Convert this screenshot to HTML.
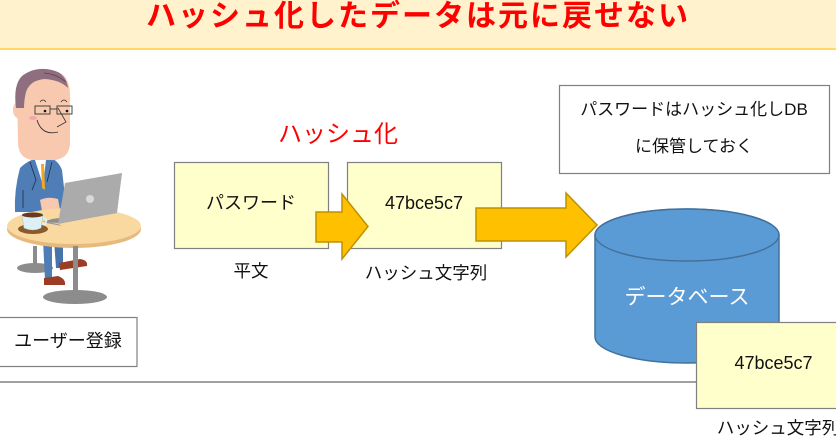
<!DOCTYPE html>
<html><head><meta charset="utf-8">
<style>
html,body{margin:0;padding:0;}
body{width:836px;height:428px;overflow:hidden;position:relative;background:#fff;font-family:"Liberation Sans","Noto Sans CJK JP",sans-serif;}
.t{position:absolute;white-space:nowrap;text-align:center;color:#111;}
#bar{position:absolute;left:0;top:0;width:836px;height:48px;background:#FFF2CC;border-bottom:2.5px solid #FFD966;}
#title{position:absolute;left:0;top:0;width:836px;height:34px;line-height:34px;text-align:center;color:#F00;font-weight:bold;font-size:30px;letter-spacing:2px;font-family:"Liberation Sans","Noto Sans CJK JP",sans-serif;}
svg{position:absolute;left:0;top:0;}
</style></head><body>
<div id="bar"></div>
<div id="title">ハッシュ化したデータは元に戻せない</div>
<svg width="836" height="428" viewBox="0 0 836 428">
  <line x1="0" y1="382" x2="836" y2="382" stroke="#808080" stroke-width="1.5"/>
  <g>
    <rect x="33" y="246" width="4" height="22" fill="#8c8c8c"/>
    <ellipse cx="35" cy="268" rx="18" ry="5" fill="#8c8c8c"/>
    <path d="M43,240 L52,240 L52,280 L45,280 Z" fill="#4F7DB5"/>
    <path d="M54,240 L63,240 L63,268 L56,268 Z" fill="#4673AC"/>
    <path d="M59,263 L80,259 Q88,260 87,266 L60,270 Z" fill="#9B3D24"/>
    <path d="M44,278 L58,276 Q66,279 65,285 L44,285 Z" fill="#9B3D24"/>
    <path d="M20,168 Q28,160 38,158 L50,158 Q58,160 62,170 L66,205 L60,212 L15,212 Q14,190 20,168 Z" fill="#4F7DB5"/>
    <path d="M35,160 L43,185 L46,160 Z" fill="#fff"/>
    <path d="M41,164 L44,164 L45,190 L42,188 Z" fill="#F2A91E"/>
    <path d="M30,162 L36,180 L32,190" stroke="#1e2e4a" stroke-width="0.8" fill="none"/>
    <path d="M52,162 L47,182" stroke="#1e2e4a" stroke-width="0.8" fill="none"/>
    <path d="M23,190 L23,208" stroke="#1e2e4a" stroke-width="0.8" fill="none"/>
    <rect x="37" y="150" width="9" height="10" fill="#F8C9AE"/>
    <path d="M17,95 Q17,76 30,73 Q45,68 60,73 Q70,78 70,95 L70,142 Q70,158 55,160 L32,160 Q18,158 18,142 Z" fill="#F8C9AE"/>
    <ellipse cx="18" cy="110" rx="5" ry="8" fill="#F8C9AE"/>
    <path d="M16,108 Q13,85 22,76 Q35,66 52,70 Q66,73 68,88 Q60,80 45,79 Q30,80 26,92 Q24,100 24,108 Z" fill="#8F6E80"/>
    <path d="M44,73 Q56,74 66,82" stroke="#5a3f50" stroke-width="0.8" fill="none"/>
    <ellipse cx="33" cy="118" rx="4" ry="2" fill="#F4A7A7"/>
    <rect x="35" y="106" width="15" height="8" fill="none" stroke="#333" stroke-width="0.9"/>
    <rect x="57" y="106" width="15" height="8" fill="none" stroke="#333" stroke-width="0.9"/>
    <line x1="50" y1="109" x2="57" y2="109" stroke="#333" stroke-width="0.9"/>
    <circle cx="45" cy="111" r="1.3" fill="#111"/>
    <circle cx="67" cy="111" r="1.3" fill="#111"/>
    <path d="M40,102 Q43,98 46,102 M61,102 Q64,98 67,102" stroke="#333" stroke-width="0.8" fill="none"/>
    <path d="M58,108 L66,122 L57,127" stroke="#333" stroke-width="0.8" fill="none"/>
    <path d="M37,120 Q42,136 58,132" stroke="#333" stroke-width="0.9" fill="none"/>
    <path d="M40,200 Q48,196 58,199 L60,210 L42,211 Z" fill="#F8C9AE"/>
    <ellipse cx="74" cy="229" rx="67" ry="19" fill="#E6B97D"/>
    <ellipse cx="74" cy="226" rx="67" ry="18" fill="#FAD9A1"/>
    <rect x="73" y="246" width="5" height="48" fill="#8c8c8c"/>
    <ellipse cx="75" cy="297" rx="32" ry="7" fill="#8c8c8c"/>
    <path d="M43,222 L58,223 L117,213 L110,211 L52,219 Z" fill="#8e8e8e"/>
    <path d="M65,183 L122,173 L117,213 L58,224 Z" fill="#ABABAB"/>
    <path d="M43,221 L58,224 L62,226 L46,223 Z" fill="#9a9a9a"/>
    <ellipse cx="90" cy="199" rx="4" ry="4" fill="#d8d8d8"/>
    <ellipse cx="33" cy="229" rx="15" ry="5" fill="#8B5A2B"/>
    <path d="M22,215 L43,215 L41,228 Q33,232 24,228 Z" fill="#DDF0F8" stroke="#9cc" stroke-width="0.5"/>
    <ellipse cx="32.5" cy="215" rx="10.5" ry="2.5" fill="#6b3a1e"/>
    <path d="M43,218 Q48,219 45,224 L42,224" stroke="#DDF0F8" stroke-width="2" fill="none"/>
  </g>
  <rect x="-1" y="317.5" width="138" height="49" fill="#fff" stroke="#808080" stroke-width="1.2"/>
  <rect x="174.5" y="162.5" width="154" height="86" fill="#FFFFCC" stroke="#808080" stroke-width="1.2"/>
  <rect x="347.5" y="162.5" width="154" height="86" fill="#FFFFCC" stroke="#808080" stroke-width="1.2"/>
  <polygon points="316,212 342,212 342,194 368,226.5 342,259 342,242 316,242" fill="#FFC000" stroke="#BF9000" stroke-width="1.5"/>
  <polygon points="476,208 566,208 566,193 597,225 566,257 566,241 476,241" fill="#FFC000" stroke="#BF9000" stroke-width="1.5"/>
  <rect x="559.5" y="85.5" width="270" height="88" fill="#fff" stroke="#808080" stroke-width="1.2"/>
  <path d="M595,235 L595,337 A92,26 0 0 0 779,337 L779,235 A92,26 0 0 0 595,235 Z" fill="#5B9BD5" stroke="#41719C" stroke-width="1.5"/>
  <ellipse cx="687" cy="235" rx="92" ry="26" fill="#5B9BD5" stroke="#41719C" stroke-width="1.5"/>
  <rect x="696.5" y="322.5" width="160" height="86" fill="#FFFFCC" stroke="#808080" stroke-width="1.2"/>
</svg>

<div class="t" style="left:0;top:326px;width:136px;line-height:30px;font-size:18px;">ユーザー登録</div>
<div class="t" style="left:238px;top:120px;width:200px;line-height:30px;font-size:24px;color:#F00;">ハッシュ化</div>
<div class="t" style="left:174px;top:189px;width:154px;line-height:28px;font-size:18px;">パスワード</div>
<div class="t" style="left:347px;top:189px;width:154px;line-height:28px;font-size:18px;">47bce5c7</div>
<div class="t" style="left:174px;top:257px;width:154px;line-height:28px;font-size:17.5px;">平文</div>
<div class="t" style="left:326px;top:259px;width:200px;line-height:28px;font-size:17.5px;">ハッシュ文字列</div>
<div class="t" style="left:559px;top:96px;width:270px;line-height:28px;font-size:17px;">パスワードはハッシュ化しDB</div>
<div class="t" style="left:559px;top:133px;width:270px;line-height:28px;font-size:17px;">に保管しておく</div>
<div class="t" style="left:587px;top:283px;width:200px;line-height:30px;font-size:21px;color:#fff;">データベース</div>
<div class="t" style="left:696px;top:349px;width:155px;line-height:28px;font-size:18px;">47bce5c7</div>
<div class="t" style="left:678px;top:414px;width:200px;line-height:28px;font-size:17.5px;">ハッシュ文字列</div>
</body></html>
